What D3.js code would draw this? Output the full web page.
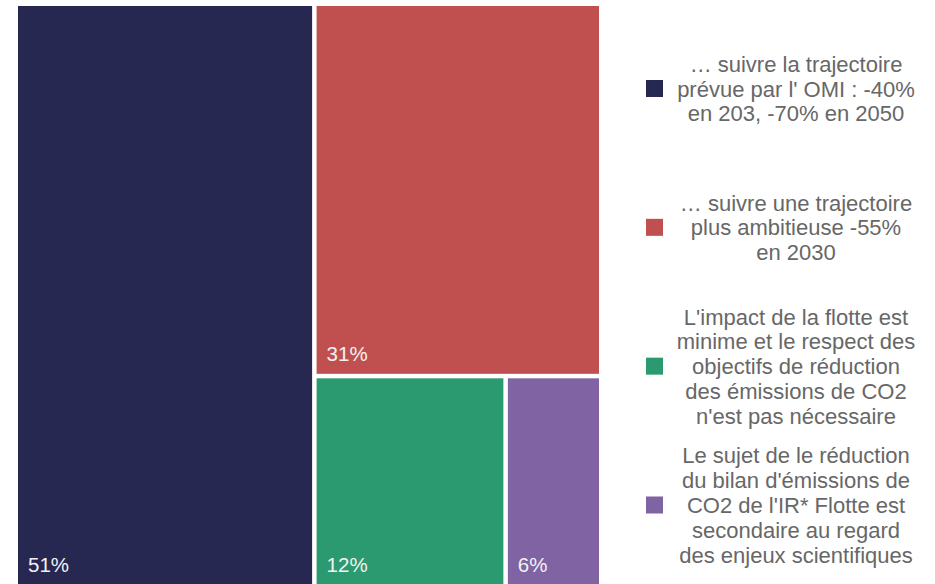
<!DOCTYPE html>
<html>
<head>
<meta charset="utf-8">
<script src="https://cdn.jsdelivr.net/npm/d3@7"></script>
<style>
  html, body { margin: 0; padding: 0; background: #fff; }
  svg { display: block; font-family: "Liberation Sans", Arial, sans-serif; }
  .tile-label { fill: #f2f2f2; font-size: 20.5px; }
  .legend-text { fill: #676767; font-size: 22px; }
</style>
</head>
<body>
<svg id="chart" width="935" height="584"></svg>
<script>
const categories = ["omi", "ambitieuse", "minime", "secondaire"];
const values = [51, 31, 12, 6];
const colors = ["#262851", "#c0504f", "#2c9a71", "#7f63a2"];
const legendLines = [
  ["… suivre la trajectoire", "prévue par l' OMI : -40%", "en 203, -70% en 2050"],
  ["… suivre une trajectoire", "plus ambitieuse -55%", "en 2030"],
  ["L'impact de la flotte est", "minime et le respect des", "objectifs de réduction", "des émissions de CO2", "n'est pas nécessaire"],
  ["Le sujet de le réduction", "du bilan d'émissions de", "CO2 de l'IR* Flotte est", "secondaire au regard", "des enjeux scientifiques"],
];

const svg = d3.select("#chart");
const color = d3.scaleOrdinal().domain(categories).range(colors);

const items = categories.map((key, i) => ({ key, value: values[i], lines: legendLines[i] }));

// nested so slice/dice alternates: 51 | (31 / (12 | 6))
const tree = {
  children: [
    items[0],
    { children: [items[1], { children: [items[2], items[3]] }] },
  ],
};

const root = d3.hierarchy(tree).sum((d) => d.value || 0);

d3.treemap()
  .tile(d3.treemapSliceDice)
  .size([581, 584])
  .paddingInner(4.5)(root);

const plot = svg.append("g").attr("transform", "translate(18,6)");

const tiles = plot.selectAll("g.tile")
  .data(root.leaves())
  .join("g")
  .attr("class", "tile");

tiles.append("rect")
  .attr("x", (d) => d.x0)
  .attr("y", (d) => d.y0)
  .attr("width", (d) => d.x1 - d.x0)
  .attr("height", (d) => d.y1 - d.y0)
  .attr("fill", (d) => color(d.data.key));

// labels sit 13px above the tile bottom (page crops the bottom row)
tiles.append("text")
  .attr("class", "tile-label")
  .attr("x", (d) => d.x0 + 10)
  .attr("y", (d) => Math.min(d.y1, 579) - 13)
  .text((d) => `${d.data.value}%`);

// legend on the right
const legendY = d3.scalePoint().domain(categories).range([88.5, 505]);
const lineHeight = 24.8;

const legend = svg.selectAll("g.legend-item")
  .data(items)
  .join("g")
  .attr("class", "legend-item")
  .attr("transform", (d) => `translate(0,${legendY(d.key)})`);

legend.append("rect")
  .attr("x", 646)
  .attr("y", -8.5)
  .attr("width", 17)
  .attr("height", 17)
  .attr("fill", (d) => color(d.key));

legend.append("text")
  .attr("class", "legend-text")
  .attr("text-anchor", "middle")
  .selectAll("tspan")
  .data((d) => d.lines.map((line, i) => ({ line, i, n: d.lines.length })))
  .join("tspan")
  .attr("x", 796)
  .attr("y", (d) => (d.i - (d.n - 1) / 2) * lineHeight + 8)
  .text((d) => d.line);
</script>
</body>
</html>
